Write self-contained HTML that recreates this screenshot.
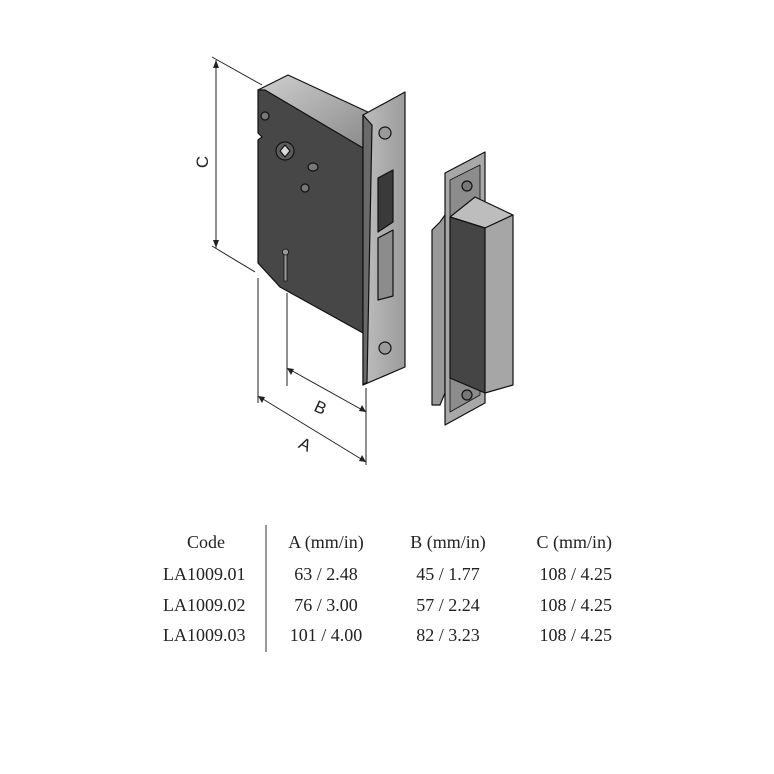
<!DOCTYPE html>
<html><head><style>
html,body{margin:0;padding:0;background:#fff;}
svg{display:block;}
</style></head><body>
<svg width="774" height="774" viewBox="0 0 774 774" xmlns="http://www.w3.org/2000/svg">
<defs>
<linearGradient id="top" x1="0" y1="0" x2="1" y2="1"><stop offset="0" stop-color="#cfcfcf"/><stop offset="1" stop-color="#8a8a8a"/></linearGradient>
<linearGradient id="fp" x1="0" y1="0" x2="1" y2="0"><stop offset="0" stop-color="#bdbdbd"/><stop offset="1" stop-color="#9c9c9c"/></linearGradient>
</defs>
<g stroke="#111" stroke-width="1.2" stroke-linejoin="round">
<!-- lock top face -->
<polygon points="258,90 288,75 370,113 363,148" fill="url(#top)"/>
<!-- lock front face -->
<polygon points="258,90 265,90 363,148 363,333 280,287 258,263 258,140 262,137 258,133" fill="#474747"/>
<!-- faceplate -->
<polygon points="363,115 405,92 405,367 363,385" fill="url(#fp)"/>
<polygon points="372,125 363,115 363,385 367,382" fill="#6a6a6a"/>
<!-- faceplate openings -->
<polygon points="378,178 393,170 393,222 378,232" fill="#3a3a3a"/>
<polygon points="378,238 393,230 393,296 378,300" fill="#8c8c8c"/>
<circle cx="385" cy="133" r="6" fill="#9a9a9a"/>
<circle cx="385" cy="348" r="6" fill="#9a9a9a"/>
<!-- spindle & holes -->
<circle cx="285" cy="151" r="9" fill="#5c5c5c"/>
<polygon points="280,151 285,145 290,151 285,157" fill="#d8d8d8"/>
<ellipse cx="313" cy="167" rx="5" ry="4" fill="#777"/>
<ellipse cx="305" cy="188" rx="4" ry="4" fill="#777"/>
<ellipse cx="265" cy="116" rx="4" ry="4" fill="#777"/>
<rect x="284" y="253" width="3" height="28" fill="#999" stroke-width="0.8"/>
<circle cx="285.5" cy="252" r="3" fill="#999" stroke-width="0.8"/>
<!-- strike -->
<polygon points="432,230 440,222 445,215 445,393 440,405 432,405" fill="#999"/>
<polygon points="445,173 485,152 485,403 445,425" fill="#a8a8a8"/>
<polygon points="450,180 480,165 480,395 450,412" fill="#8c8c8c" stroke-width="0.8"/>
<circle cx="467" cy="186" r="5" fill="#777"/>
<circle cx="467" cy="395" r="5" fill="#777"/>
<polygon points="450,217 475,197 513,215 485,228" fill="#bdbdbd"/>
<polygon points="450,217 485,228 485,393 450,378" fill="#454545"/>
<polygon points="485,228 513,215 513,385 485,393" fill="#a6a6a6"/>
</g>
<!-- dimension lines -->
<g stroke="#222" stroke-width="1" fill="none">
<line x1="216" y1="60" x2="216" y2="248"/>
<line x1="212" y1="57" x2="262" y2="85"/>
<line x1="212" y1="246" x2="255" y2="272"/>
<line x1="258" y1="278" x2="258" y2="403"/>
<line x1="287" y1="293" x2="287" y2="386"/>
<line x1="366" y1="388" x2="366" y2="465"/>
<line x1="287" y1="368" x2="366" y2="412"/>
<line x1="258" y1="396" x2="366" y2="462"/>
</g>
<g fill="#222">
<polygon points="216,60 213,68 219,68"/>
<polygon points="216,248 213,240 219,240"/>
<polygon points="287,368 294,369 291,375"/>
<polygon points="366,412 359,411 362,405"/>
<polygon points="258,396 265,397 262,403"/>
<polygon points="366,462 359,461 362,455"/>
</g>
<g font-family="Liberation Sans, sans-serif" font-size="17" fill="#222">
<text x="0" y="0" transform="translate(208,162) rotate(-90)" text-anchor="middle">C</text>
<text x="315" y="413" transform="rotate(25 320 407)">B</text>
<text x="300" y="450" transform="rotate(25 305 443)">A</text>
</g>
<!-- table -->
<line x1="266" y1="525" x2="266" y2="652" stroke="#333" stroke-width="1"/>
<g font-family="Liberation Serif, serif" font-size="18" fill="#222">
<text x="206" y="548" text-anchor="middle">Code</text>
<text x="326" y="548" text-anchor="middle">A (mm/in)</text>
<text x="448" y="548" text-anchor="middle">B (mm/in)</text>
<text x="612" y="548" text-anchor="end">C (mm/in)</text>
<text x="163" y="580">LA1009.01</text>
<text x="163" y="611">LA1009.02</text>
<text x="163" y="641">LA1009.03</text>
<text x="326" y="580" text-anchor="middle">63 / 2.48</text>
<text x="326" y="611" text-anchor="middle">76 / 3.00</text>
<text x="326" y="641" text-anchor="middle">101 / 4.00</text>
<text x="448" y="580" text-anchor="middle">45 / 1.77</text>
<text x="448" y="611" text-anchor="middle">57 / 2.24</text>
<text x="448" y="641" text-anchor="middle">82 / 3.23</text>
<text x="612" y="580" text-anchor="end">108 / 4.25</text>
<text x="612" y="611" text-anchor="end">108 / 4.25</text>
<text x="612" y="641" text-anchor="end">108 / 4.25</text>
</g>
</svg>
</body></html>
